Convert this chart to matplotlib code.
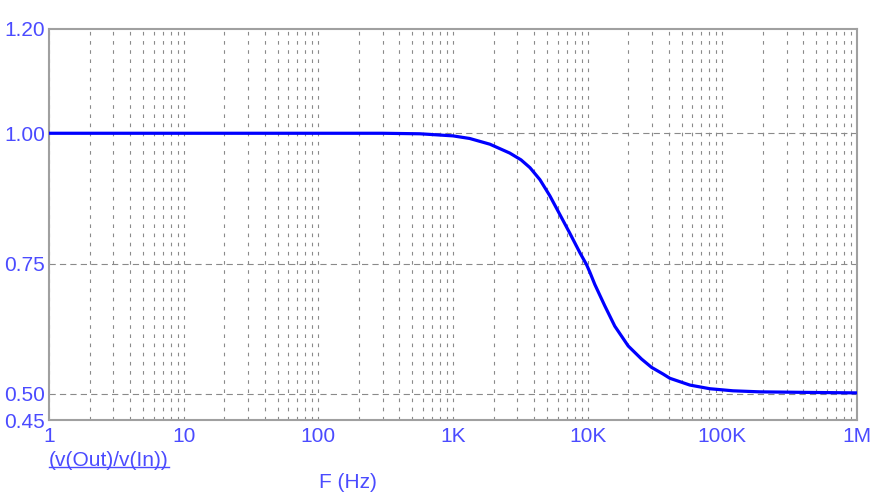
import matplotlib
matplotlib.use("Agg")
import matplotlib.pyplot as plt
from matplotlib.lines import Line2D
from matplotlib.ticker import FixedLocator, LogLocator, NullFormatter

# Frequência (Hz) e ganho
freq = [1, 10, 100, 300, 568, 1000, 1330, 1880, 2640, 3200, 3730, 4420, 5240, 6220, 7380,
        8750, 9810, 10400, 11300, 13400, 15900, 20000, 25100, 29800, 36400, 40800, 57400,
        80700, 120000, 190000, 400000, 1000000]
ganho = [1.0, 1.0, 1.0, 1.0, 0.999, 0.995, 0.990, 0.979, 0.962, 0.949, 0.934, 0.911, 0.880,
         0.844, 0.808, 0.771, 0.748, 0.733, 0.710, 0.669, 0.630, 0.592, 0.567, 0.551, 0.538,
         0.530, 0.517, 0.510, 0.506, 0.504, 0.503, 0.502]

y_ticks = [0.45, 0.50, 0.75, 1.00, 1.20]
y_labels = ["0.45", "0.50", "0.75", "1.00", "1.20"]
x_ticks = [1, 10, 100, 1e3, 1e4, 1e5, 1e6]
x_labels = ["1", "10", "100", "1K", "10K", "100K", "1M"]

cor_texto = "#4b4bff"
cor_grade = "#8a8a8a"

plt.rcParams["font.family"] = ["Liberation Sans", "DejaVu Sans"]
plt.rcParams["lines.scale_dashes"] = False
fig = plt.figure(figsize=(8.85, 5), dpi=100)
ax = fig.add_axes([49 / 885, 80 / 500, 808 / 885, 391 / 500])

ax.plot(freq, ganho, color="#0000ff", linewidth=2.3, zorder=3)

ax.set_xscale("log")
ax.set_xlim(1, 1e6)
ax.set_ylim(0.45, 1.20)

ax.xaxis.set_major_locator(FixedLocator(x_ticks))
ax.set_xticklabels(x_labels)
ax.xaxis.set_minor_locator(LogLocator(base=10, subs=range(2, 10), numticks=20))
ax.xaxis.set_minor_formatter(NullFormatter())
ax.set_yticks(y_ticks)
ax.set_yticklabels(y_labels)

ax.tick_params(axis="both", which="both", length=0, labelsize=15, labelcolor=cor_texto)
ax.tick_params(axis="x", pad=5)
ax.tick_params(axis="y", pad=3)

ax.grid(True, which="both", axis="x", color=cor_grade, linestyle=(0, (2.6, 4)), linewidth=0.8)
for y in [0.50, 0.75, 1.00]:
    ax.axhline(y, color=cor_grade, linestyle=(0, (4.5, 3)), linewidth=0.8, zorder=1)

for s in ax.spines.values():
    s.set_color("#a0a0a0")
    s.set_linewidth(1.5)

t = fig.text(49 / 885, 1 - 460 / 500, "(v(Out)/v(In))", color=cor_texto, fontsize=15,
             ha="left", va="center")
fig.text(348 / 885, 1 - 482 / 500, "F (Hz)", color=cor_texto, fontsize=15,
         ha="center", va="center")

# sublinhado do rótulo
fig.canvas.draw()
bb = t.get_window_extent().transformed(fig.transFigure.inverted())
fig.add_artist(Line2D([bb.x0, bb.x1], [bb.y0 + 0.006, bb.y0 + 0.006], color=cor_texto,
                      linewidth=1.0, transform=fig.transFigure))

fig.savefig("out.png", dpi=100)
